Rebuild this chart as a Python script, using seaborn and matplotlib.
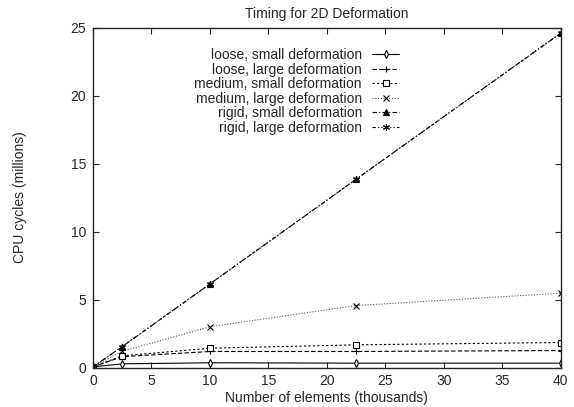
import numpy as np
import pandas as pd
import matplotlib
matplotlib.use("Agg")
import matplotlib.pyplot as plt
import seaborn as sns

# number of elements (thousands)
elements = [0, 2.5, 10, 22.5, 40]

loose_small = [0.05, 0.27, 0.35, 0.32, 0.32]
loose_large = [0.05, 0.8, 1.18, 1.18, 1.25]
medium_small = [0.05, 0.86, 1.42, 1.67, 1.84]
medium_large = [0.05, 1.2, 3.0, 4.56, 5.47]
rigid_small = [0.05, 1.54, 6.15, 13.85, 24.6]
rigid_large = [0.05, 1.54, 6.15, 13.85, 24.6]

labels = ["loose, small deformation", "loose, large deformation",
          "medium, small deformation", "medium, large deformation",
          "rigid, small deformation", "rigid, large deformation"]
series = [loose_small, loose_large, medium_small, medium_large, rigid_small, rigid_large]

rows = []
for lab, vals in zip(labels, series):
    for x, y in zip(elements, vals):
        rows.append({"elements": x, "cycles": y, "run": lab})
df = pd.DataFrame(rows)

sns.set_style("ticks")
plt.rcParams["font.family"] = ["Liberation Sans", "DejaVu Sans"]

styles = {
    labels[0]: dict(marker="d", ls="-", mfc="white", ms=4, color="black"),
    labels[1]: dict(marker="+", ls=(0, (4, 2)), ms=5, color="black"),
    labels[2]: dict(marker="s", ls=(0, (2, 2)), mfc="white", ms=5, color="black"),
    labels[3]: dict(marker="x", ls=(0, (1, 1.5)), ms=4.5, color="#555555"),
    labels[4]: dict(marker="^", ls=(0, (4, 2, 1, 2)), ms=4, color="black"),
    labels[5]: dict(marker=(6, 2, 0), ls=(0, (3, 2, 1, 2, 1, 2)), ms=5, color="black"),
}

fig, ax = plt.subplots(figsize=(5.74, 4.07), dpi=100)
fig.subplots_adjust(left=0.162, right=0.977, top=0.932, bottom=0.097)

for lab in labels:
    st = styles[lab]
    sns.lineplot(data=df[df["run"] == lab], x="elements", y="cycles", ax=ax,
                 label=lab, color=st["color"], marker=st["marker"], linestyle=st["ls"],
                 markersize=st["ms"], markerfacecolor=st.get("mfc", st["color"]),
                 markeredgecolor="black", markeredgewidth=0.8, linewidth=0.8)

ax.set_xlim(0, 40)
ax.set_ylim(0, 25)
ax.set_xticks(np.arange(0, 41, 5))
ax.set_yticks(np.arange(0, 26, 5))
ax.tick_params(direction="in", top=True, right=True, length=4, width=0.8,
               labelsize=10, pad=5)
for sp in ax.spines.values():
    sp.set_linewidth(1.0)
    sp.set_visible(True)

ax.set_title("Timing for 2D Deformation", fontsize=10, pad=7)
ax.set_xlabel("Number of elements (thousands)", fontsize=10, labelpad=2)
ax.set_ylabel("CPU cycles (millions)", fontsize=10, labelpad=31)

ax.legend(loc="upper right", bbox_to_anchor=(0.655, 0.94), frameon=False, markerfirst=False,
          fontsize=10, handlelength=2.0, handletextpad=0.7, labelspacing=0.04,
          borderaxespad=0, borderpad=0, alignment="right")
leg = ax.get_legend()
for t in leg.get_texts():
    t.set_ha("right")
leg._legend_box.align = "right"

fig.savefig("out.png", dpi=100)
